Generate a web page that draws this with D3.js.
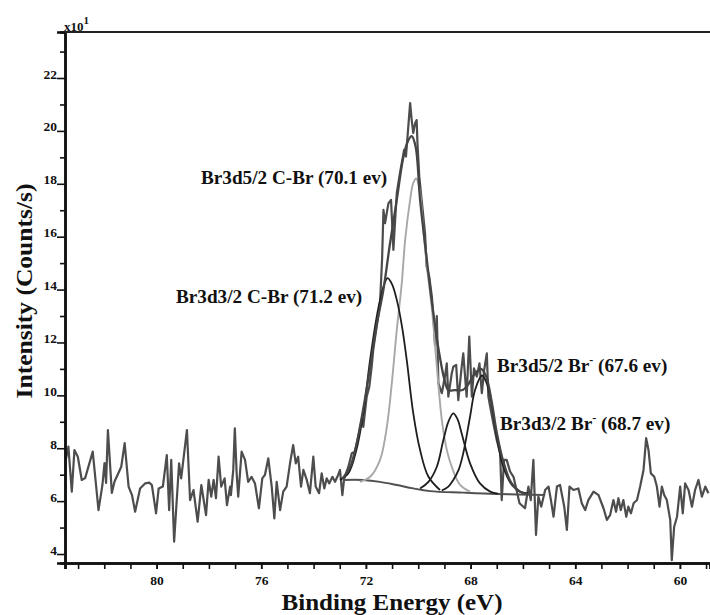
<!DOCTYPE html>
<html>
<head>
<meta charset="utf-8">
<script src="https://cdn.jsdelivr.net/npm/d3@7"></script>
<style>
  body { margin: 0; background: #fff; }
  text { font-family: "Liberation Serif", "Times New Roman", serif; font-weight: bold; }
</style>
</head>
<body>
<svg id="chart" width="710" height="615"></svg>
<script>
// binding energy (eV), intensity (x10 counts/s)
const rawSpectrum = [
  [83.47,7.56],[83.37,8.06],[83.24,6.36],[83.14,7.93],[83.01,7.68],[82.86,6.80],[82.73,6.87],[82.44,7.87],
  [82.22,5.66],[82.07,6.61],[81.99,7.44],[81.93,6.69],[81.86,8.69],[81.71,6.31],[81.61,6.73],[81.35,7.30],
  [81.22,8.19],[81.07,6.55],[80.94,6.23],[80.82,5.60],[80.63,6.48],[80.44,6.67],[80.28,6.70],[80.18,6.61],
  [80.02,5.54],[79.92,6.48],[79.76,6.55],[79.61,7.74],[79.52,5.66],[79.44,7.56],[79.33,4.47],[79.14,7.43],
  [79.06,6.86],[78.84,8.69],[78.72,6.04],[78.59,6.42],[78.43,5.22],[78.29,6.61],[78.11,5.47],[78.01,6.80],
  [77.91,6.17],[77.82,6.80],[77.73,6.11],[77.63,7.68],[77.53,6.55],[77.40,6.86],[77.31,5.85],[77.19,6.55],
  [77.16,6.23],[77.07,7.18],[77.01,8.75],[76.94,7.05],[76.88,6.17],[76.75,7.87],[76.62,7.56],[76.50,6.73],
  [76.37,6.92],[76.24,6.67],[76.09,5.73],[75.96,6.86],[75.86,6.99],[75.73,7.62],[75.60,6.55],[75.50,5.35],
  [75.41,6.73],[75.28,5.66],[75.16,6.36],[75.03,6.55],[74.90,7.43],[74.78,8.12],[74.68,7.43],[74.59,7.68],
  [74.48,6.55],[74.39,7.18],[74.26,6.80],[74.14,6.30],[74.01,7.68],[73.92,6.55],[73.79,6.30],[73.69,7.05],
  [73.59,6.48],[73.50,6.86],[73.40,6.67],[73.28,6.92],[73.18,6.73],[73.06,6.99],[72.99,7.18],[72.90,6.23],
  [72.83,6.86],[72.67,7.30],[72.54,7.81],[72.42,7.87],[72.29,8.44],[72.16,9.10],[72.10,8.81],[71.97,9.95],
  [71.87,10.33],[71.78,11.08],[71.72,11.72],[71.59,12.60],[71.46,13.49],[71.38,15.20],[71.33,17.01],[71.27,16.51],
  [71.14,17.26],[71.04,17.39],[70.95,15.50],[70.89,16.50],[70.82,17.65],[70.70,18.40],[70.54,19.28],[70.47,19.03],
  [70.38,20.16],[70.31,21.05],[70.25,20.41],[70.19,19.92],[70.12,20.29],[70.06,20.41],[70.03,19.53],[69.96,18.27],
  [69.87,17.39],[69.74,16.13],[69.68,14.87],[69.58,14.49],[69.48,13.73],[69.42,12.98],[69.36,11.90],[69.29,13.00],
  [69.23,10.46],[69.10,10.08],[68.98,10.71],[68.91,11.21],[68.85,9.95],[68.72,10.83],[68.66,11.08],[68.55,11.15],
  [68.47,9.82],[68.34,11.08],[68.28,11.59],[68.15,9.95],[68.05,12.22],[67.95,9.95],[67.87,11.02],[67.76,10.71],
  [67.66,11.21],[67.57,10.08],[67.48,10.96],[67.38,11.59],[67.32,9.95],[67.25,9.57],[67.13,8.94],[67.00,8.31],
  [66.87,7.81],[66.81,6.04],[66.72,7.56],[66.62,7.56],[66.49,7.12],[66.36,6.92],[66.23,6.36],[66.13,5.92],
  [65.92,5.73],[65.79,6.55],[65.70,6.04],[65.60,7.56],[65.50,4.72],[65.41,6.17],[65.30,5.79],[65.15,6.42],
  [65.02,6.55],[64.93,6.04],[64.83,5.41],[64.70,6.55],[64.58,6.61],[64.42,5.79],[64.32,4.91],[64.22,6.55],
  [64.07,6.42],[63.88,6.48],[63.75,5.92],[63.62,5.66],[63.50,6.04],[63.30,6.36],[63.11,6.23],[62.92,5.73],
  [62.79,5.29],[62.67,5.47],[62.54,6.04],[62.44,5.60],[62.35,6.11],[62.26,5.66],[62.16,6.04],[62.05,5.41],
  [61.97,5.79],[61.87,5.54],[61.77,5.92],[61.64,6.04],[61.52,6.55],[61.39,7.18],[61.29,8.38],[61.20,7.93],
  [61.11,7.05],[60.98,6.92],[60.88,6.55],[60.78,5.79],[60.69,6.55],[60.60,6.23],[60.50,6.04],[60.37,5.29],
  [60.31,3.77],[60.22,5.03],[60.11,5.41],[59.99,6.55],[59.89,5.54],[59.80,6.67],[59.67,6.42],[59.54,5.79],
  [59.42,6.42],[59.29,6.80],[59.16,6.17],[59.03,6.55],[58.91,6.30]
];

const backgroundLine = [[72.88,6.80],[72.10,6.80],[71.46,6.73],[70.82,6.61],[70.19,6.48],[69.55,6.38],[68.28,6.32],[67.00,6.27],[65.15,6.23]];

const envelopeFit = [
  [72.90,6.85],[72.60,7.30],[72.35,8.20],[72.10,9.50],[71.85,11.00],[71.60,12.60],[71.33,14.00],[71.10,15.60],
  [70.82,17.40],[70.57,19.00],[70.40,19.60],[70.25,19.80],[70.10,19.40],[69.93,17.40],[69.68,15.20],[69.45,13.30],
  [69.20,11.60],[69.00,10.60],[68.85,10.20],[68.60,10.20],[68.30,10.20],[68.10,10.40],[67.85,10.80],[67.60,11.00],
  [67.40,10.70],[67.20,9.80],[67.00,8.60],[66.75,7.50],[66.45,6.70],[66.10,6.35],[65.80,6.25]
];

const peakCBr32 = [
  [72.99,6.80],[72.67,7.05],[72.36,7.95],[72.10,9.32],[71.84,11.34],[71.60,12.90],[71.46,13.61],[71.30,14.20],
  [71.17,14.43],[71.00,14.20],[70.82,13.61],[70.62,12.60],[70.44,11.34],[70.19,9.32],[69.93,7.93],[69.61,6.92],[69.17,6.42]
];

const peakCBr52 = [
  [72.23,6.73],[71.84,6.92],[71.46,7.56],[71.20,8.81],[71.01,10.46],[70.82,12.47],[70.63,14.24],[70.50,15.88],
  [70.31,17.39],[70.20,18.00],[70.08,18.20],[69.95,17.80],[69.80,16.20],[69.65,14.70],[69.48,13.30],[69.29,11.08],
  [69.09,9.00],[68.90,7.90],[68.72,7.30],[68.40,6.61],[68.02,6.36]
];

const peakBr32 = [
  [69.93,6.48],[69.61,6.73],[69.29,7.30],[69.04,8.31],[68.85,9.00],[68.66,9.32],[68.50,9.10],[68.34,8.56],
  [68.02,7.43],[67.64,6.67],[67.25,6.36],[66.95,6.28]
];

const peakBr52 = [
  [69.10,6.40],[68.85,6.55],[68.66,6.80],[68.45,7.20],[68.28,7.81],[68.02,9.19],[67.83,10.20],[67.57,10.75],
  [67.40,10.50],[67.25,9.95],[67.00,8.44],[66.75,7.30],[66.42,6.61],[66.11,6.36],[65.80,6.28]
];

const xMajorTicks = [80, 76, 72, 68, 64, 60];
const xMinorTicks = d3.range(59, 84);
const yMajorTicks = [4, 6, 8, 10, 12, 14, 16, 18, 20, 22];
const yMinorTicks = [5, 7, 9, 11, 13, 15, 17, 19, 21, 23];

const labels = [
  {text: "Br3d5/2 C-Br (70.1 ev)", sup: "", rest: "", x: 201, y: 184},
  {text: "Br3d3/2 C-Br (71.2 ev)", sup: "", rest: "", x: 176, y: 303},
  {text: "Br3d5/2 Br", sup: "-", rest: " (67.6 ev)", x: 497, y: 372},
  {text: "Br3d3/2 Br", sup: "-", rest: " (68.7 ev)", x: 500, y: 430}
];

const svg = d3.select("#chart");
const margin = {top: 32, right: 0, bottom: 52, left: 65};
const width = 710, height = 615;

const x = d3.scaleLinear().domain([83.5, 58.85]).range([margin.left, width - margin.right]);
const y = d3.scaleLinear().domain([3.66, 23.74]).range([height - margin.bottom, margin.top]);

svg.append("defs").append("clipPath").attr("id", "plot")
  .append("rect")
  .attr("x", margin.left).attr("y", margin.top)
  .attr("width", width - margin.left).attr("height", height - margin.top - margin.bottom);

const line = d3.line().x(d => x(d[0])).y(d => y(d[1]));
const smooth = d3.line().x(d => x(d[0])).y(d => y(d[1])).curve(d3.curveCatmullRom.alpha(0.5));

const plot = svg.append("g").attr("clip-path", "url(#plot)").attr("fill", "none");

plot.append("path").datum(rawSpectrum)
  .attr("d", line).attr("stroke", "#4d4d4d").attr("stroke-width", 2.2).attr("stroke-linejoin", "round");

plot.append("path").datum(backgroundLine)
  .attr("d", smooth).attr("stroke", "#505050").attr("stroke-width", 1.9);

plot.append("path").datum(peakCBr52)
  .attr("d", smooth).attr("stroke", "#a8a8a8").attr("stroke-width", 1.9);

[peakCBr32, peakBr32, peakBr52].forEach(p => {
  plot.append("path").datum(p)
    .attr("d", smooth).attr("stroke", "#1e1e1e").attr("stroke-width", 1.8);
});

plot.append("path").datum(envelopeFit)
  .attr("d", smooth).attr("stroke", "#454545").attr("stroke-width", 2.3);

// axes
const xAxisMinor = d3.axisBottom(x).tickValues(xMinorTicks).tickSize(6).tickFormat("");
const xAxisMajor = d3.axisBottom(x).tickValues(xMajorTicks).tickSize(6).tickFormat(d3.format("d"));
const yAxisMinor = d3.axisLeft(y).tickValues(yMinorTicks).tickSize(5).tickFormat("");
const yAxisMajor = d3.axisLeft(y).tickValues(yMajorTicks).tickSize(8).tickFormat(d3.format("d"));

const gx = svg.append("g").attr("transform", `translate(0,${height - margin.bottom})`);
gx.append("g").call(xAxisMinor);
gx.append("g").call(xAxisMajor);
gx.selectAll(".domain").attr("stroke", "#111").attr("stroke-width", 2.5);
gx.selectAll(".tick line").attr("stroke", "#111").attr("stroke-width", 1.6);
gx.selectAll(".tick text").attr("font-size", 13.5).attr("fill", "#111").attr("y", 22).attr("dy", "0");

const gy = svg.append("g").attr("transform", `translate(${margin.left},0)`);
gy.append("g").call(yAxisMinor);
gy.append("g").call(yAxisMajor);
gy.selectAll(".domain").attr("stroke", "#111").attr("stroke-width", 2.5);
gy.selectAll(".tick line").attr("stroke", "#111").attr("stroke-width", 1.6);
gy.selectAll(".tick text").attr("font-size", 13.5).attr("fill", "#111").attr("x", -8).attr("dy", "0");

// top frame line
svg.append("line")
  .attr("x1", margin.left).attr("x2", width)
  .attr("y1", margin.top).attr("y2", margin.top)
  .attr("stroke", "#222").attr("stroke-width", 2.2);

// multiplier
const mult = svg.append("text").attr("x", margin.left - 1).attr("y", margin.top - 1)
  .attr("font-size", 13).attr("fill", "#111");
mult.append("tspan").text("x10");
mult.append("tspan").attr("dy", -7).attr("font-size", 11).text("1");

// axis titles
svg.append("text")
  .attr("x", 392).attr("y", 610)
  .attr("text-anchor", "middle").attr("font-size", 23).attr("fill", "#111")
  .attr("textLength", 221).attr("lengthAdjust", "spacingAndGlyphs")
  .text("Binding Energy (eV)");

svg.append("text")
  .attr("transform", "translate(32,291) rotate(-90)")
  .attr("text-anchor", "middle").attr("font-size", 23).attr("fill", "#111")
  .attr("textLength", 215).attr("lengthAdjust", "spacingAndGlyphs")
  .text("Intensity (Counts/s)");

// peak annotations
labels.forEach(l => {
  const t = svg.append("text").attr("x", l.x).attr("y", l.y)
    .attr("font-size", 19.2).attr("fill", "#111");
  t.append("tspan").text(l.text);
  if (l.sup) {
    t.append("tspan").attr("dy", -8).attr("font-size", 12).text(l.sup);
    t.append("tspan").attr("dy", 8).text(l.rest);
  }
});
</script>
</body>
</html>
